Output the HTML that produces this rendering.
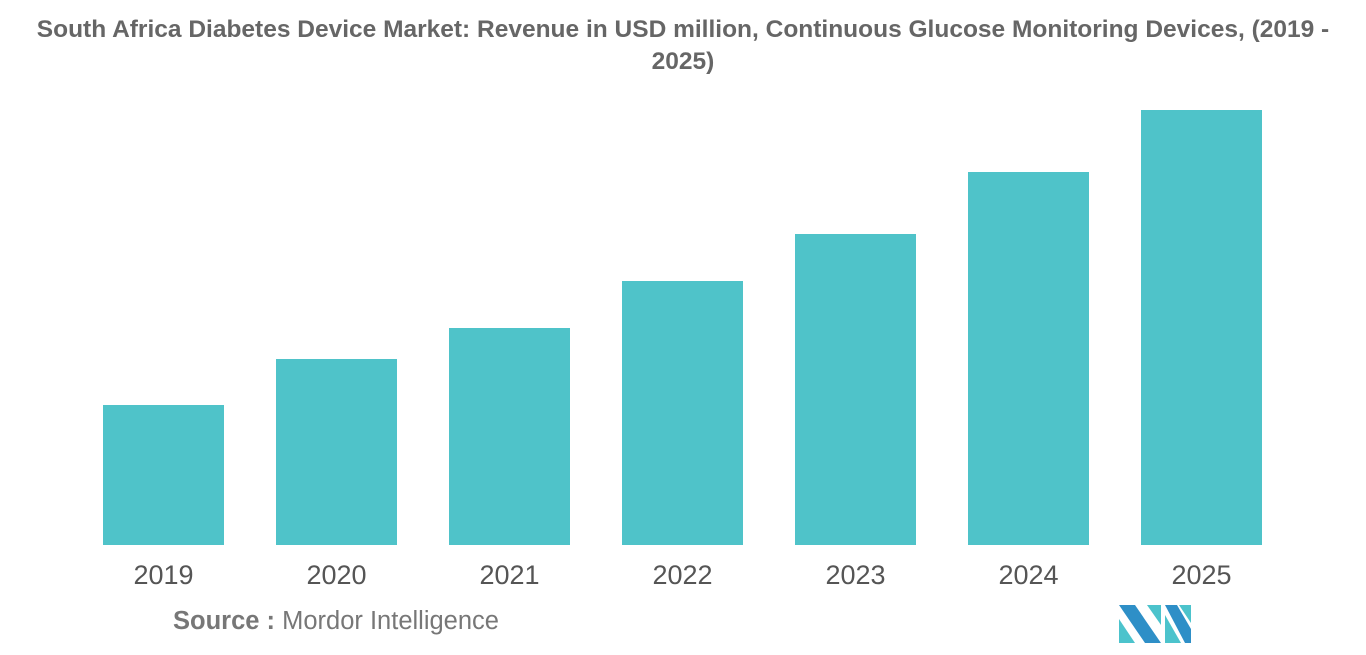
<!DOCTYPE html>
<html><head><meta charset="utf-8"><style>
body{margin:0;width:1366px;height:655px;background:#fff;overflow:hidden;font-family:"Liberation Sans",sans-serif}
#title{position:absolute;left:0;top:14px;width:1366px;text-align:center;font-size:24.5px;font-weight:bold;color:#666;line-height:32px}
#src{position:absolute;left:173px;top:607px;font-size:25.5px;color:#777}
</style></head><body>
<div id="title">South Africa Diabetes Device Market: Revenue in USD million, Continuous Glucose Monitoring Devices, (2019 -<br>2025)</div>
<svg id="chart" width="1366" height="600" style="position:absolute;left:0;top:0"></svg>
<div id="src"><b>Source :</b> Mordor Intelligence</div>
<svg width="80" height="45" style="position:absolute;left:1117px;top:603px">
<polygon points="2,2 18,2 44,40 28,40" fill="#2e8fc7"/>
<polygon points="2,16 18,40 2,40" fill="#4cc3cc"/>
<polygon points="30,2 44,2 44,22" fill="#4cc3cc"/>
<polygon points="48,12 64,40 48,40" fill="#4cc3cc"/>
<polygon points="48,2 60,2 74,26 74,40 68,40" fill="#2e8fc7"/>
<polygon points="62,2 74,2 74,20" fill="#4cc3cc"/>
</svg>
<script>
const categories=["2019","2020","2021","2022","2023","2024","2025"];
const values=[140,186,217,264,311,373,435];
const svg=document.getElementById('chart');
const NS='http://www.w3.org/2000/svg';
const base=545, scale=1, x0=103, pitch=173, bw=121;
function y(v){return base-v*scale;}
function x(i){return x0+i*pitch;}
categories.forEach((c,i)=>{
 const r=document.createElementNS(NS,'rect');
 r.setAttribute('x',x(i));r.setAttribute('y',y(values[i]));
 r.setAttribute('width',bw);r.setAttribute('height',base-y(values[i]));
 r.setAttribute('fill','#4fc3c9');
 
 
 svg.appendChild(r);
 const t=document.createElementNS(NS,'text');
 t.setAttribute('x',x(i)+bw/2);t.setAttribute('y',584);
 t.setAttribute('text-anchor','middle');t.setAttribute('font-size','27');
 t.setAttribute('fill','#555');t.setAttribute('font-family','Liberation Sans, sans-serif');
 t.textContent=c;
 
 
 svg.appendChild(t);
});
</script>
</body></html>
